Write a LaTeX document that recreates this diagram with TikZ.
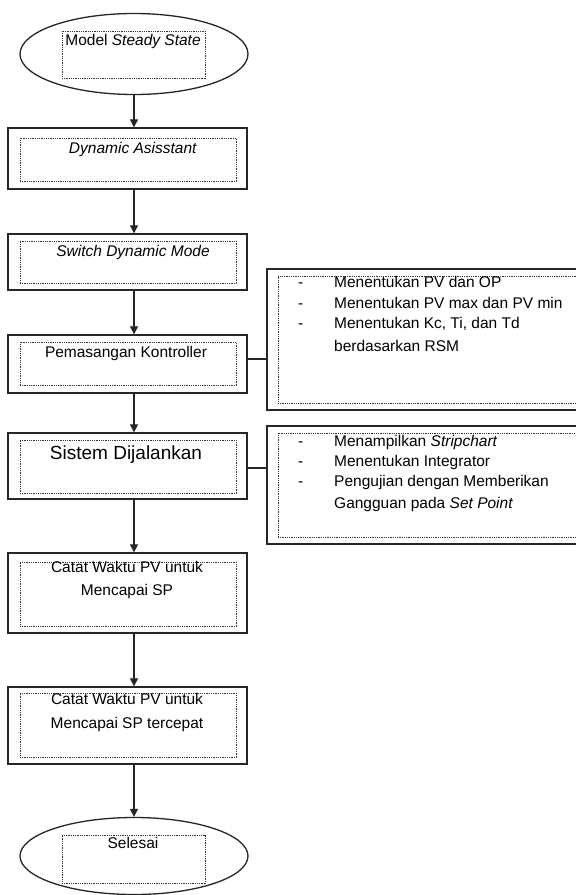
\documentclass[tikz,border=0pt]{standalone}
\usepackage{fontspec}
\setmainfont{Liberation Sans}
\usetikzlibrary{arrows.meta,shapes.geometric}
\begin{document}
\begin{tikzpicture}[x=1pt,y=-1pt,
  outer/.style={draw=black!85,line width=1.4pt,rectangle,inner sep=0pt},
  outerell/.style={draw=black!85,line width=1.3pt,ellipse,inner sep=0pt},
  inner/.style={draw=black!80,line width=0.9pt,dash pattern=on 0.9pt off 0.9pt,rectangle,inner sep=0pt},
  txt/.style={anchor=base,inner sep=0pt,font=\fontsize{15.5}{21}\selectfont},
  bigtxt/.style={anchor=base,inner sep=0pt,font=\fontsize{19}{23}\selectfont},
  ltxt/.style={anchor=base west,inner sep=0pt,font=\fontsize{15.5}{21}\selectfont},
  arr/.style={line width=1.3pt,draw=black!85,-{Triangle[length=8pt,width=8pt]}},
  conn/.style={line width=1.3pt,draw=black!85}]
\clip (0,0) rectangle (576,895);
\useasboundingbox (0,0) rectangle (576,895);
\fill[white] (0,0) rectangle (576,895);

% start ellipse
\node[outerell,minimum width=228pt,minimum height=81pt] (e1) at (134,54) {};
\node[inner,minimum width=143pt,minimum height=47pt] (e1in) at (133.5,54.5) {};
\node[txt] (t1) at (133,45) {Model \textit{Steady State}};

% Dynamic Asisstant
\node[outer,minimum width=239pt,minimum height=61pt] (b1) at (127.5,158.5) {};
\node[inner,minimum width=216pt,minimum height=43pt] (b1in) at (128,159.5) {};
\node[txt] (t2) at (133,153) {\textit{Dynamic Asisstant}};

% Switch Dynamic Mode
\node[outer,minimum width=239pt,minimum height=56pt] (b2) at (127.5,262) {};
\node[inner,minimum width=216pt,minimum height=42pt] (b2in) at (128,262) {};
\node[txt] (t3) at (133,256) {\textit{Switch Dynamic Mode}};

% Pemasangan Kontroller
\node[outer,minimum width=239pt,minimum height=58pt] (b3) at (127.5,364) {};
\node[inner,minimum width=216pt,minimum height=43pt] (b3in) at (128,363.5) {};
\node[txt] (t4) at (126,357) {Pemasangan Kontroller};

% Sistem Dijalankan
\node[outer,minimum width=239pt,minimum height=66pt] (b4) at (127.5,466) {};
\node[inner,minimum width=216pt,minimum height=53pt] (b4in) at (128,466.5) {};
\node[bigtxt] (t5) at (126,459) {Sistem Dijalankan};

% Catat Waktu 1
\node[outer,minimum width=239pt,minimum height=80pt] (b5) at (127.5,593) {};
\node[inner,minimum width=216pt,minimum height=64pt] (b5in) at (128,594) {};
\node[txt] (t6a) at (127,572) {Catat Waktu PV untuk};
\node[txt] (t6b) at (127,595) {Mencapai SP};

% Catat Waktu 2
\node[outer,minimum width=239pt,minimum height=77pt] (b6) at (127.5,725.5) {};
\node[inner,minimum width=216pt,minimum height=64pt] (b6in) at (128,725) {};
\node[txt] (t7a) at (127,704) {Catat Waktu PV untuk};
\node[txt] (t7b) at (127,728) {Mencapai SP tercepat};

% end ellipse
\node[outerell,minimum width=228pt,minimum height=77pt] (e2) at (134,856) {};
\node[inner,minimum width=143pt,minimum height=48pt] (e2in) at (133.5,859) {};
\node[txt] (t8) at (133,848) {Selesai};

% right box A
\node[outer,minimum width=323pt,minimum height=141pt] (rA) at (428.5,339.5) {};
\node[inner,minimum width=307pt,minimum height=127pt] (rAin) at (431.5,339.5) {};
\node[ltxt] (dA1) at (298,287) {-};
\node[ltxt] (dA2) at (298,308) {-};
\node[ltxt] (dA3) at (298,328) {-};
\node[ltxt] (lA1) at (334,287) {Menentukan PV dan OP};
\node[ltxt] (lA2) at (334,308) {Menentukan PV max dan PV min};
\node[ltxt] (lA3) at (334,328) {Menentukan Kc, Ti, dan Td};
\node[ltxt] (lA4) at (334,351) {berdasarkan RSM};

% right box B
\node[outer,minimum width=323pt,minimum height=118pt] (rB) at (428.5,485) {};
\node[inner,minimum width=307pt,minimum height=104pt] (rBin) at (431.5,485) {};
\node[ltxt] (dB1) at (298,446) {-};
\node[ltxt] (dB2) at (298,466) {-};
\node[ltxt] (dB3) at (298,486) {-};
\node[ltxt] (lB1) at (334,446) {Menampilkan \textit{Stripchart}};
\node[ltxt] (lB2) at (334,466) {Menentukan Integrator};
\node[ltxt] (lB3) at (334,486) {Pengujian dengan Memberikan};
\node[ltxt] (lB4) at (334,508) {Gangguan pada \textit{Set Point}};

% arrows
\draw[arr] (e1.south) -- (e1.south |- b1.north);
\draw[arr] (b1.south -| e1.south) -- (b2.north -| e1.south);
\draw[arr] (b2.south -| e1.south) -- (b3.north -| e1.south);
\draw[arr] (b3.south -| e1.south) -- (b4.north -| e1.south);
\draw[arr] (b4.south -| e1.south) -- (b5.north -| e1.south);
\draw[arr] (b5.south -| e1.south) -- (b6.north -| e1.south);
\draw[arr] (b6.south -| e1.south) -- (e2.north);

% side connectors
\draw[conn] ([yshift=5pt]b3.east) -- ([yshift=5pt]b3.east -| rA.west);
\draw[conn] ([yshift=-2pt]b4.east) -- ([yshift=-2pt]b4.east -| rB.west);
\end{tikzpicture}
\end{document}
